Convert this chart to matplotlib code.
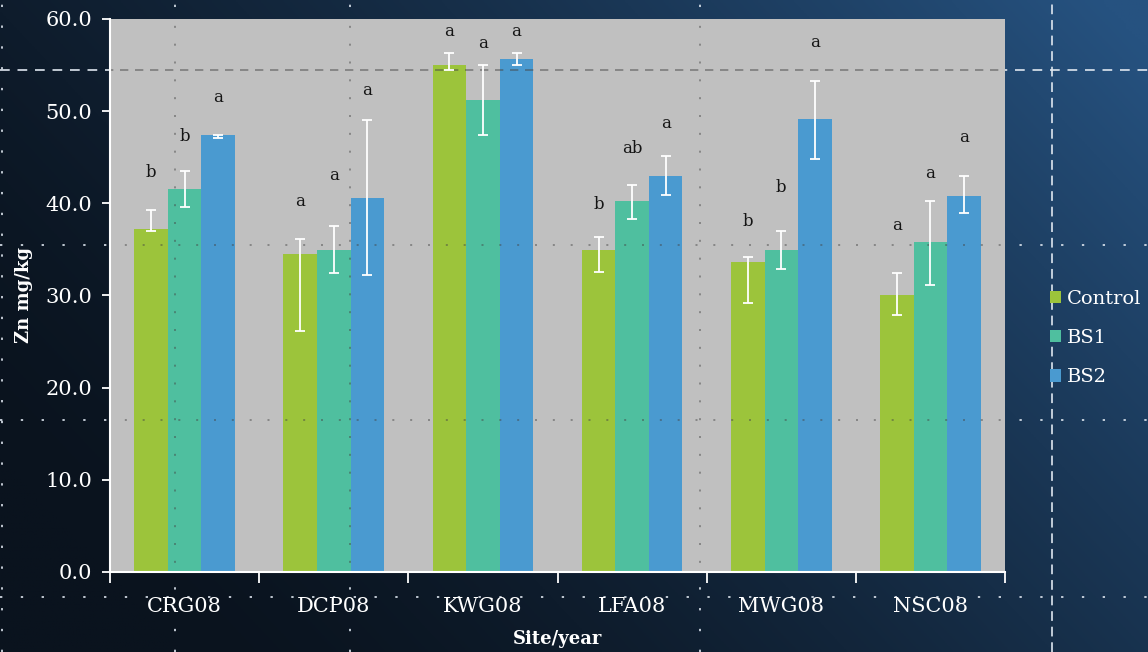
import numpy as np
import matplotlib
matplotlib.use("Agg")
import matplotlib.pyplot as plt
from matplotlib.lines import Line2D
from matplotlib.patches import Patch
from matplotlib.ticker import FixedLocator, FormatStrFormatter

# Zn concentration per site/year and treatment
sites = ["CRG08", "DCP08", "KWG08", "LFA08", "MWG08", "NSC08"]
treatments = ["Control", "BS1", "BS2"]

control = [37.25, 34.5, 55.0, 34.9, 33.6, 30.0]
control_hi = [39.3, 36.1, 56.3, 36.3, 34.2, 32.4]
control_lo = [37.0, 26.1, 54.5, 32.5, 29.2, 27.9]

bs1 = [41.5, 34.9, 51.2, 40.25, 34.9, 35.8]
bs1_hi = [43.5, 37.5, 55.0, 42.0, 37.0, 40.3]
bs1_lo = [39.6, 32.4, 47.4, 38.3, 32.9, 31.1]

bs2 = [47.4, 40.6, 55.65, 43.0, 49.1, 40.8]
bs2_hi = [47.45, 49.05, 56.3, 45.1, 53.3, 43.0]
bs2_lo = [47.05, 32.2, 55.0, 40.9, 44.8, 38.9]

# significance letters
control_sig = ["b", "a", "a", "b", "b", "a"]
bs1_sig = ["b", "a", "a", "ab", "b", "a"]
bs2_sig = ["a", "a", "a", "a", "a", "a"]

yticks = [0, 10, 20, 30, 40, 50, 60]

# where the letters sit (data units)
control_sig_y = [43.3, 40.2, 58.6, 39.9, 38.0, 37.6]
bs1_sig_y = [47.2, 43.0, 57.3, 46.0, 41.7, 43.2]
bs2_sig_y = [51.5, 52.2, 58.6, 48.7, 57.5, 47.1]

colors = ["#9cc43b", "#4fbf9f", "#4a9ad0"]
serif = ["DejaVu Serif"]

fig = plt.figure(figsize=(11.48, 6.52), dpi=100)

# slide background: dark navy on the left, lighter blue to the upper right
bg = fig.add_axes([0, 0, 1, 1], zorder=-3)
gx, gy = np.meshgrid(np.linspace(0, 1, 400), np.linspace(1, 0, 240))
t = np.clip(0.75 * gx + 0.4 * gy - 0.12, 0, 1) ** 1.5
dark = np.array([10, 19, 30]) / 255.0
light = np.array([38, 82, 128]) / 255.0
img = dark[None, None, :] * (1 - t[..., None]) + light[None, None, :] * t[..., None]
bg.imshow(img, aspect="auto", extent=[0, 1, 0, 1])
bg.set_axis_off()

ax = fig.add_axes([0.0958, 0.1227, 0.7797, 0.8482])
ax.set_facecolor("#c0c0c0")

x = np.arange(len(sites))
w = 0.225
series = [
    (control, control_lo, control_hi, control_sig, control_sig_y),
    (bs1, bs1_lo, bs1_hi, bs1_sig, bs1_sig_y),
    (bs2, bs2_lo, bs2_hi, bs2_sig, bs2_sig_y),
]
for i, (vals, lo, hi, sig, sig_y) in enumerate(series):
    vals = np.array(vals)
    pos = x + (i - 1) * w
    ax.bar(pos, vals, width=w, color=colors[i], zorder=2, label=treatments[i])
    yerr = [vals - np.array(lo), np.array(hi) - vals]
    ax.errorbar(pos, vals, yerr=yerr, fmt="none", ecolor="white",
                elinewidth=1.3, capsize=3.8, capthick=1.3, zorder=3)
    for px, py, s in zip(pos, sig_y, sig):
        ax.text(px, py, s, ha="center", va="center", fontsize=12,
                family=serif, color="#151515", zorder=4)

ax.set_xlim(-0.5, len(sites) - 0.5)
ax.set_ylim(0, 60)
ax.yaxis.set_major_locator(FixedLocator(yticks))
ax.yaxis.set_major_formatter(FormatStrFormatter("%.1f"))
ax.set_xticks(x)
ax.set_xticklabels(sites)
ax.xaxis.set_minor_locator(FixedLocator(np.arange(-0.5, len(sites), 1.0)))
ax.tick_params(axis="x", which="major", length=0, pad=18)
ax.tick_params(axis="x", which="minor", length=8, width=1.3, color="white")
ax.tick_params(axis="y", length=6, width=1.3, color="white", pad=7)
for lab in ax.get_xticklabels() + ax.get_yticklabels():
    lab.set_family(serif)
    lab.set_fontsize(15)
    lab.set_color("white")

for side in ["top", "right"]:
    ax.spines[side].set_visible(False)
for side in ["left", "bottom"]:
    ax.spines[side].set_color("white")
    ax.spines[side].set_linewidth(1.5)

ax.set_xlabel("Site/year", family=serif, fontweight="bold", fontsize=13,
              color="white", labelpad=10)
ax.set_ylabel("Zn mg/kg", family=serif, fontweight="bold", fontsize=13,
              color="white", labelpad=9)

# dotted/dashed layout guides across the slide
W, H = 1148.0, 652.0
dot = (0, (1.2, 9.5))
guides = [
    ([0, 1], [1 - 597 / H] * 2, dot),
    ([0, 1], [1 - 420 / H] * 2, dot),
    ([0, 1], [1 - 245 / H] * 2, dot),
    ([0, 1], [1 - 70 / H] * 2, (0, (5, 4))),
    ([2 / W] * 2, [0, 1], dot),
    ([175 / W] * 2, [0, 1], dot),
    ([350 / W] * 2, [0, 1], dot),
    ([700 / W] * 2, [0, 1], dot),
    ([1052 / W] * 2, [0, 1], (0, (5, 3))),
]
for gxs, gys, ls in guides:
    fig.add_artist(Line2D(gxs, gys, transform=fig.transFigure, color="#dfe7f0",
                          alpha=0.85, lw=1.4, ls=ls, zorder=-2))
    inner = Line2D(gxs, gys, transform=fig.transFigure, color="#444444",
                   alpha=0.55, lw=1.2, ls=ls, zorder=2.5)
    ax.add_artist(inner)

handles = [Patch(facecolor=c, edgecolor="none") for c in colors]
leg = fig.legend(handles, treatments, loc="upper left",
                 bbox_to_anchor=(1040 / W, 1 - 280 / H), frameon=False,
                 borderpad=0, handlelength=0.6, handleheight=0.6,
                 handletextpad=0.3, labelspacing=1.1,
                 prop={"family": serif, "size": 14})
for txt in leg.get_texts():
    txt.set_color("white")

fig.savefig("out.png", dpi=100)
